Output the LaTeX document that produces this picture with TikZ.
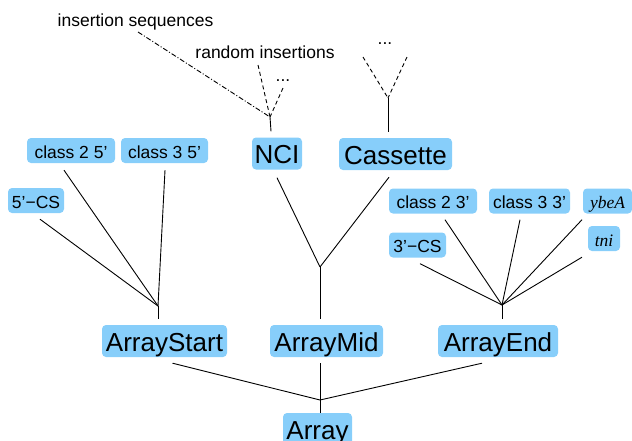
\documentclass[tikz,border=0pt]{standalone}
\usepackage{fontspec}
\setmainfont{Liberation Sans}
\newfontfamily\serifit{Liberation Serif}
\definecolor{boxblue}{HTML}{87CEFA}
\begin{document}
\begin{tikzpicture}[x=1pt,y=-1pt,
 big/.style={fill=boxblue, rounded corners=4pt, inner sep=0pt, font=\fontsize{26}{30}\selectfont, text height=20pt, text depth=0pt, minimum height=32pt},
 small/.style={fill=boxblue, rounded corners=4pt, inner sep=0pt, font=\fontsize{17.5}{20}\selectfont, text height=15.5pt, text depth=0pt, minimum height=25pt},
 ital/.style={small, font=\fontsize{17.5}{20}\selectfont\serifit\itshape},
 lab/.style={inner sep=0pt, anchor=base, font=\fontsize{17.5}{20}\selectfont},
 conn/.style={line width=0.9pt},
 dsh/.style={line width=0.9pt, dash pattern=on 4pt off 3pt},
 dshdot/.style={line width=0.9pt, dash pattern=on 5pt off 2pt on 1pt off 2pt}]
\useasboundingbox (0,0) rectangle (632,440);
\clip (0,0) rectangle (632,440);
% main nodes
\node[big, minimum width=69pt] (A) at (317.5,429) {Array};
\node[big, minimum width=125pt] (AS) at (164.5,341) {ArrayStart};
\node[big, minimum width=113pt] (AM) at (326.5,341) {ArrayMid};
\node[big, minimum width=120pt] (AE) at (498,341) {ArrayEnd};
\node[big, minimum width=50pt] (NCI) at (277,153.5) {NCI};
\node[big, minimum width=113pt] (CA) at (395.5,154) {Cassette};
% small nodes
\node[small, minimum width=56pt] (CS5) at (36,200.5) {5’−CS};
\node[small, minimum width=88pt] (C25) at (71,150.5) {class 2 5’};
\node[small, minimum width=87pt] (C35) at (164.5,150.5) {class 3 5’};
\node[small, minimum width=88pt] (C23) at (433,201) {class 2 3’};
\node[small, minimum width=81pt] (C33) at (529.5,201) {class 3 3’};
\node[ital, minimum width=49pt] (YB) at (607.5,201) {ybeA};
\node[small, minimum width=57pt] (CS3) at (417.5,245) {3’−CS};
\node[ital, minimum width=32pt] (TN) at (604,238.5) {tni};
% labels
\node[lab] (IS) at (135.5,26) {insertion sequences};
\node[lab] (RI) at (265,58) {random insertions};
\node[lab] (D1) at (283,81) {...};
\node[lab] (D2) at (385,44) {...};
% junctions
\coordinate (jA) at (320,400);
\coordinate (jS) at (158,306);
\coordinate (jM) at (320,267);
\coordinate (jE) at (502,305);
\coordinate (jN) at (270,117);
\coordinate (jC) at (388,98);
\coordinate (fC1) at (363,57);
\coordinate (fC2) at (407,57);
% bottom level
\draw[conn] ([shift={(8,6)}]AS.south) -- (jA);
\draw[conn] ([shift={(-6.5,6)}]AM.south) -- (jA);
\draw[conn] ([shift={(-16,6)}]AE.south) -- (jA);
\draw[conn] (jA) -- (jA |- A.north);
% ArrayStart group
\draw[conn] (jS) -- ([shift={(-6.5,-6)}]AS.north);
\draw[conn] ([shift={(4,6)}]CS5.south) -- (jS);
\draw[conn] ([shift={(-7,7)}]C25.south) -- (jS);
\draw[conn] ([shift={(0.5,7)}]C35.south) -- (jS);
% ArrayMid group
\draw[conn] (jM) -- ([shift={(-6.5,-6)}]AM.north);
\draw[conn] ([shift={(0,8)}]NCI.south) -- (jM);
\draw[conn] ([shift={(-6.5,7)}]CA.south) -- (jM);
% ArrayEnd group
\draw[conn] (jE) -- ([shift={(4,-6)}]AE.north);
\draw[conn] ([shift={(2.5,6)}]CS3.south) -- (jE);
\draw[conn] ([shift={(12,6)}]C23.south) -- (jE);
\draw[conn] ([shift={(-9.5,6)}]C33.south) -- (jE);
\draw[conn] ([shift={(-25.5,6)}]YB.south) -- (jE);
\draw[conn] ([shift={(-22,6)}]TN.south) -- (jE);
% NCI top
\draw[conn] (jN) -- ([shift={(-6,-6)}]NCI.north);
\draw[dshdot] ([shift={(2.5,6)}]IS.base) -- (jN);
\draw[dsh] ([shift={(-7,7)}]RI.base) -- (jN);
\draw[dsh] ([shift={(0,7)}]D1.base) -- (jN);
% Cassette top
\draw[conn] (jC) -- ([shift={(-7.5,-6)}]CA.north);
\draw[dsh] (fC1) -- (jC);
\draw[dsh] (fC2) -- (jC);
\end{tikzpicture}
\end{document}
